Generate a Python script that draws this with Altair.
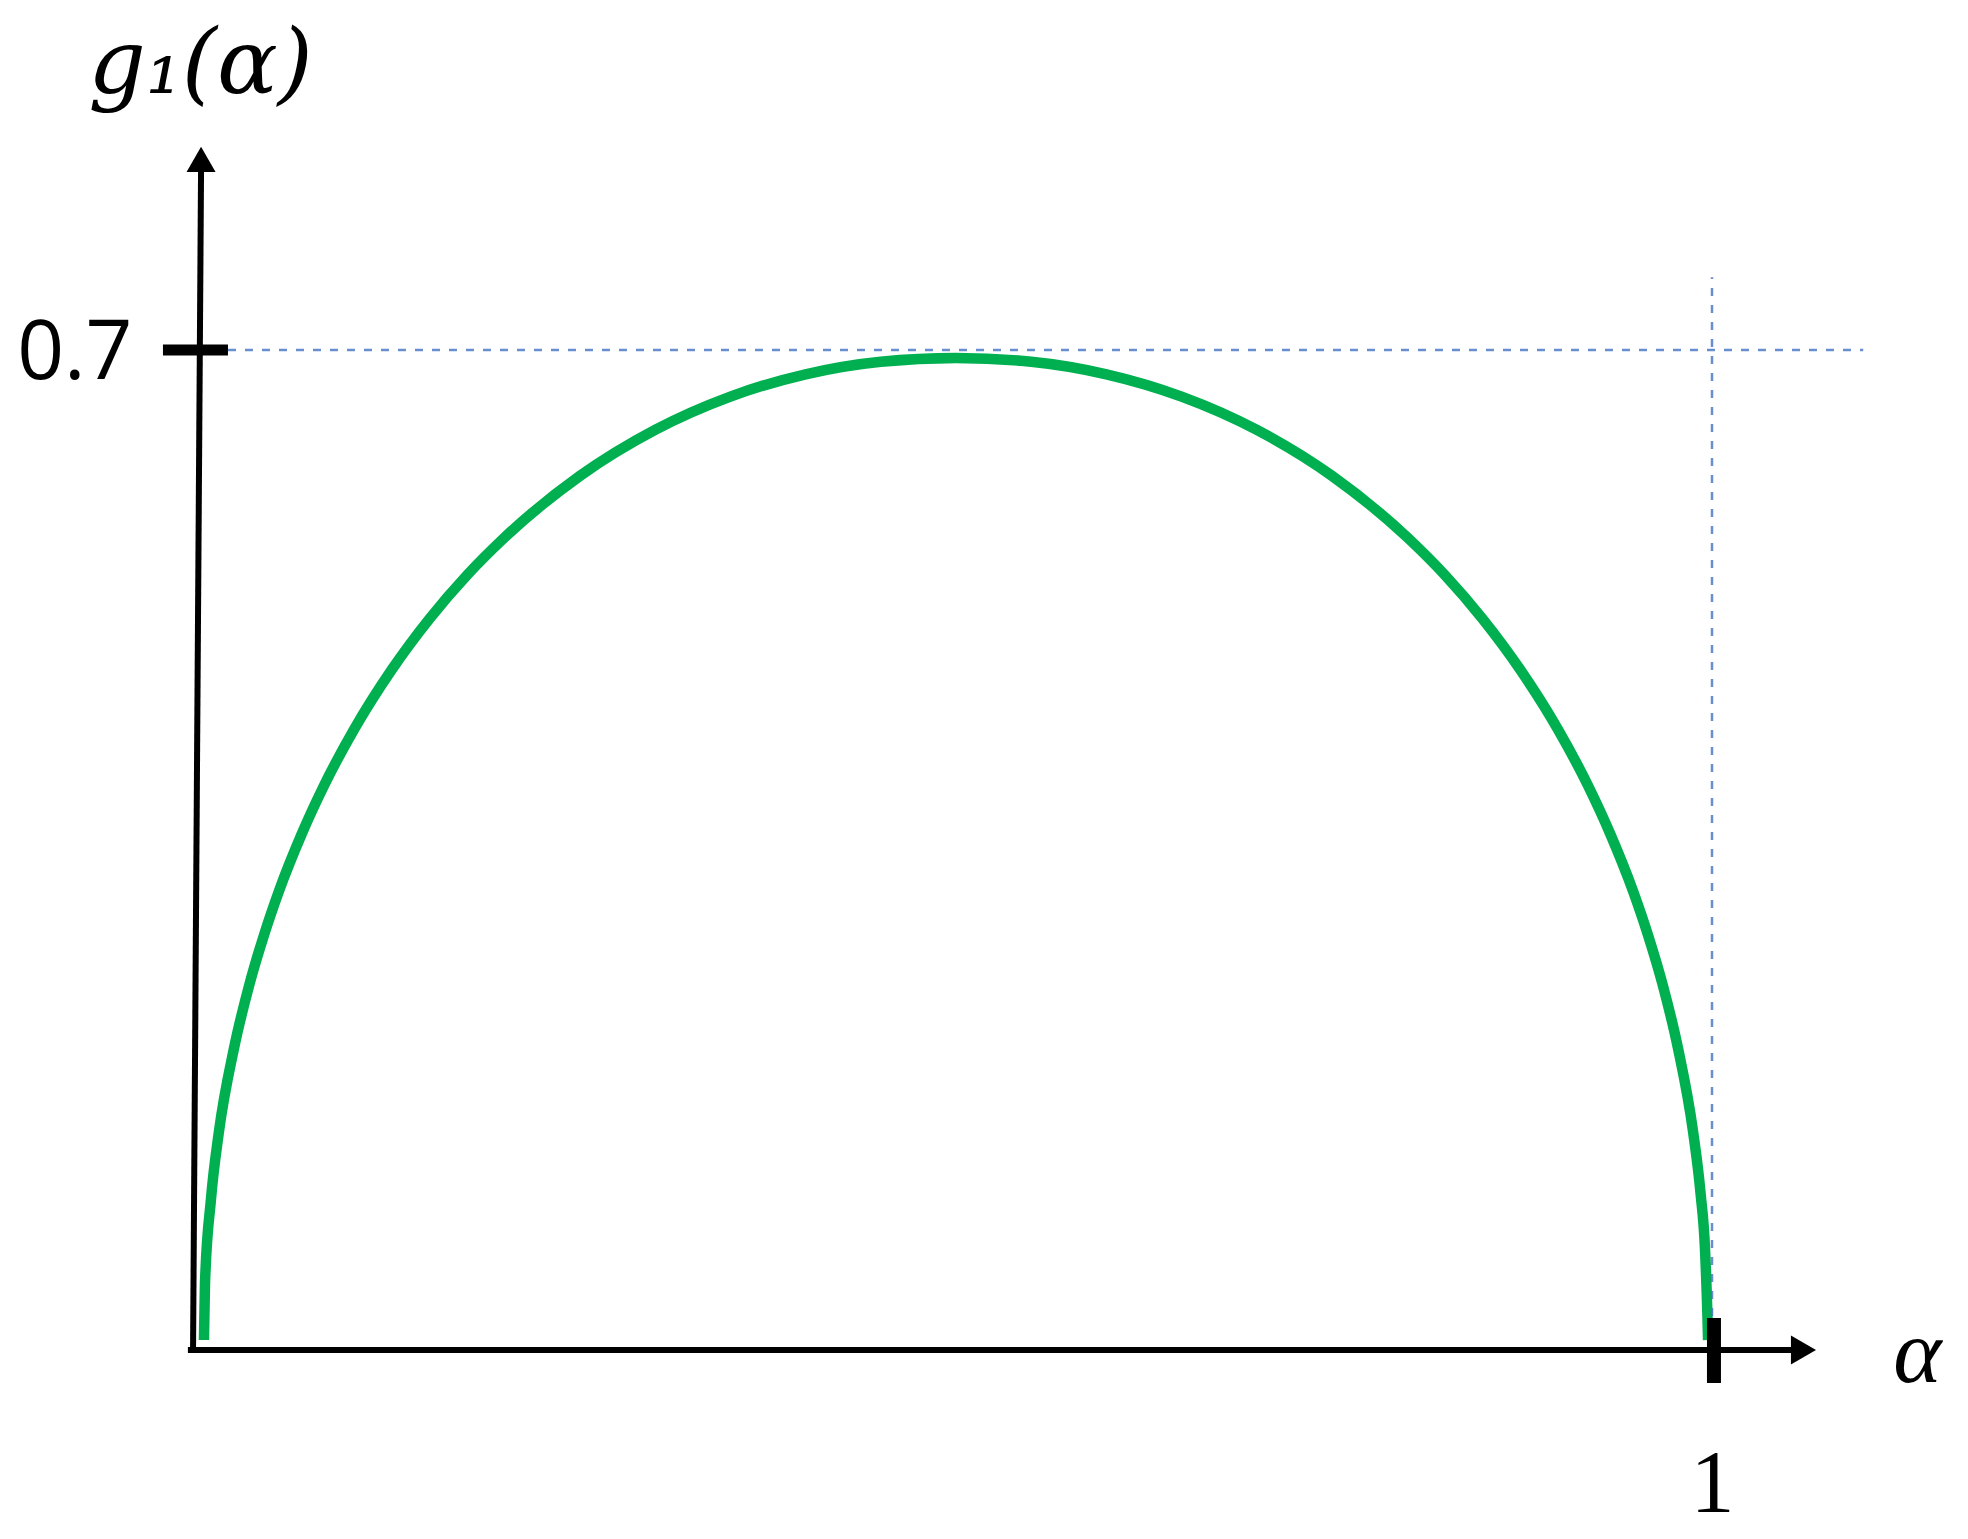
import altair as alt
import pandas as pd

# ---- data (smoothed readings) ----
curve_alpha = [0.0026, 0.0033, 0.0072, 0.0125, 0.0225, 0.0324, 0.0424, 0.0523, 0.0673, 0.0822,
               0.1021, 0.1270, 0.1518, 0.1767, 0.2016, 0.2513, 0.3010, 0.3508, 0.4005, 0.4503,
               0.5000, 0.5497, 0.5995, 0.6492, 0.6990, 0.7487, 0.7984, 0.8233, 0.8482, 0.8730,
               0.8979, 0.9178, 0.9327, 0.9477, 0.9576, 0.9676, 0.9775, 0.9875, 0.9924, 0.9954,
               0.9970, 0.9974]
curve_g = [0.0070, 0.0467, 0.1050, 0.1527, 0.2113, 0.2548, 0.2907, 0.3215, 0.3613, 0.3955,
           0.4348, 0.4765, 0.5119, 0.5425, 0.5689, 0.6119, 0.6441, 0.6674, 0.6830, 0.6918,
           0.6944, 0.6918, 0.6830, 0.6674, 0.6441, 0.6119, 0.5689, 0.5425, 0.5119, 0.4765,
           0.4348, 0.3955, 0.3613, 0.3215, 0.2907, 0.2548, 0.2113, 0.1527, 0.1100, 0.0700,
           0.0233, 0.0070]

y_tick_values = [0.7]
x_tick_values = [1]

# axis lines (start/end in data units): x-axis, y-axis
axis_x = [-0.008, -0.0046]
axis_x2 = [1.055, 0.0007]
axis_y = [0.0, 0.0]
axis_y2 = [0.0, 0.826]

# arrow heads
arrow_x = [0.0007, 1.0605]
arrow_y = [0.8334, 0.0]
arrow_shape = ["triangle-up", "triangle-right"]

# tick bars
ytick_x, ytick_x2 = -0.0245, 0.0185
xtick_x = 1.0013
xtick_y, xtick_y2 = -0.0231, 0.0224

# dashed guides
hguide_x2 = 1.10
vguide_y2 = 0.751

xs = alt.Scale(domain=[0, 1], nice=False, zero=False)
ys = alt.Scale(domain=[0, 0.7], nice=False, zero=False)

x_axis = alt.Axis(
    values=x_tick_values, format="d", grid=False, domain=False, ticks=False,
    labelFlush=False, labelFont="Liberation Serif", labelFontSize=88,
    labelPadding=90, labelColor="black",
    title="α", titleAngle=0, titleX=1717, titleY=3, titleAlign="center",
    titleBaseline="middle", titleFont="Liberation Serif", titleFontStyle="italic",
    titleFontWeight="normal", titleFontSize=92, titleColor="black")
y_axis = alt.Axis(
    values=y_tick_values, format=".1f", grid=False, domain=False, ticks=False,
    labelFont="Open Sans", labelFontSize=82, labelPadding=68, labelColor="black",
    labelBaseline="middle", labelOffset=3,
    title="g₁(α)", titleAngle=0, titleX=0, titleY=-285, titleAlign="center",
    titleBaseline="middle", titleFont="DejaVu Serif", titleFontStyle="italic",
    titleFontWeight="normal", titleFontSize=90, titleColor="black")


def X(field):
    return alt.X(field, type="quantitative", scale=xs, axis=x_axis)


def Y(field):
    return alt.Y(field, type="quantitative", scale=ys, axis=y_axis)


curve_df = pd.DataFrame({"x": curve_alpha, "y": curve_g})
curve = alt.Chart(curve_df).mark_line(
    color="#00B050", strokeWidth=10.5, interpolate="monotone"
).encode(x=X("x"), y=Y("y"))

hguide = alt.Chart(pd.DataFrame({"x": [ytick_x2], "x2": [hguide_x2], "y": y_tick_values})).mark_rule(
    color="#4472C4", strokeWidth=2.5, strokeDash=[8, 9], opacity=0.8
).encode(x=X("x"), x2="x2:Q", y=Y("y"))

vguide = alt.Chart(pd.DataFrame({"x": x_tick_values, "y": [0.0], "y2": [vguide_y2]})).mark_rule(
    color="#4472C4", strokeWidth=2.5, strokeDash=[8, 9], opacity=0.8
).encode(x=X("x"), y=Y("y"), y2="y2:Q")

axes_df = pd.DataFrame({"x": axis_x, "x2": axis_x2, "y": axis_y, "y2": axis_y2})
axis_lines = alt.Chart(axes_df).mark_rule(color="black", strokeWidth=6).encode(
    x=X("x"), x2="x2:Q", y=Y("y"), y2="y2:Q"
)

arrows_df = pd.DataFrame({"x": arrow_x, "y": arrow_y, "shape": arrow_shape})
arrows = alt.Chart(arrows_df).mark_point(
    filled=True, color="black", size=841, opacity=1
).encode(
    x=X("x"), y=Y("y"),
    shape=alt.Shape("shape:N", scale=None, legend=None),
)

ytick = alt.Chart(pd.DataFrame({"x": [ytick_x], "x2": [ytick_x2], "y": y_tick_values})).mark_rule(
    color="black", strokeWidth=11
).encode(x=X("x"), x2="x2:Q", y=Y("y"))

xtick = alt.Chart(pd.DataFrame({"x": [xtick_x], "y": [xtick_y], "y2": [xtick_y2]})).mark_rule(
    color="black", strokeWidth=14
).encode(x=X("x"), y=Y("y"), y2="y2:Q")

chart = alt.layer(curve, hguide, vguide, axis_lines, arrows, ytick, xtick).properties(
    width=1512, height=1000,
    padding={"left": 192, "top": 342, "right": 248, "bottom": 186},
    autosize=alt.AutoSizeParams(type="none"),
    background="white",
).configure_view(stroke=None)

chart.save("out.html", embed_options={"renderer": "svg", "actions": False})
